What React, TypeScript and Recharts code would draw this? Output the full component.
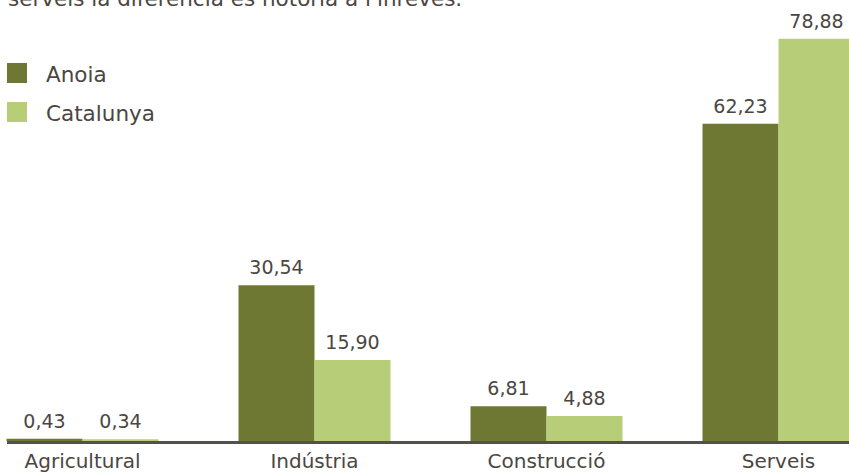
import { BarChart, Bar, XAxis, YAxis, Legend, LabelList } from 'recharts'

const sectors = ['Agricultural', 'Indústria', 'Construcció', 'Serveis']
const anoia = [0.43, 30.54, 6.81, 62.23]
const catalunya = [0.34, 15.9, 4.88, 78.88]

const data = sectors.map((sector, i) => ({
    sector,
    anoia: anoia[i],
    catalunya: catalunya[i]
}))

const TEXT = '#4b4641'
const FONT = '"DejaVu Sans", sans-serif'

const formatValue = (v: any) => Number(v).toFixed(2).replace('.', ',')

const LegendContent = ({ payload }: any) => (
    <div style={{ fontFamily: FONT, fontSize: 21.5, color: TEXT }}>
        {(payload || []).map((entry: any) => (
            <div key={entry.value} style={{ display: 'flex', alignItems: 'center', height: 39 }}>
                <span style={{ width: 20, height: 20, backgroundColor: entry.color, marginRight: 19, marginTop: -4 }} />
                <span>{entry.value}</span>
            </div>
        ))}
    </div>
)

export default function App() {
    return (
        <div style={{ position: 'fixed', left: 0, top: 0, width: 849, height: 472, overflow: 'hidden', background: '#fff' }}>
            <div style={{ position: 'absolute', left: 8, top: -13, fontFamily: FONT, fontSize: 21.5, lineHeight: '24px', color: TEXT, whiteSpace: 'nowrap' }}>
                serveis la diferència és notòria a l'inrevés.
            </div>
            <div style={{ position: 'absolute', left: -40, top: 0 }}>
                <BarChart
                    width={940}
                    height={472}
                    data={data}
                    margin={{ top: 33, left: 6.5, right: 5.5, bottom: 0 }}
                    barGap={0}
                >
                    <XAxis
                        dataKey="sector"
                        height={31}
                        axisLine={false}
                        tickLine={false}
                        tickSize={0}
                        tickMargin={13}
                        interval={0}
                        tick={{ fontFamily: FONT, fontSize: 20, fill: TEXT }}
                    />
                    <YAxis hide domain={[0, 80]} />
                    <Legend
                        layout="vertical"
                        align="center"
                        verticalAlign="middle"
                        wrapperStyle={{ left: 47, top: 55, width: 200 }}
                        content={<LegendContent />}
                    />
                    <Bar dataKey="anoia" name="Anoia" fill="#6f7832" barSize={76} isAnimationActive={false}>
                        <LabelList dataKey="anoia" position="top" offset={11} formatter={formatValue}
                            style={{ fontFamily: FONT, fontSize: 19, fill: TEXT }} />
                    </Bar>
                    <Bar dataKey="catalunya" name="Catalunya" fill="#b8cd78" barSize={76} isAnimationActive={false}>
                        <LabelList dataKey="catalunya" position="top" offset={11} formatter={formatValue}
                            style={{ fontFamily: FONT, fontSize: 19, fill: TEXT }} />
                    </Bar>
                </BarChart>
            </div>
            <div style={{ position: 'absolute', left: 7, top: 441, width: 842, height: 2.5, background: '#55504b' }} />
        </div>
    )
}
